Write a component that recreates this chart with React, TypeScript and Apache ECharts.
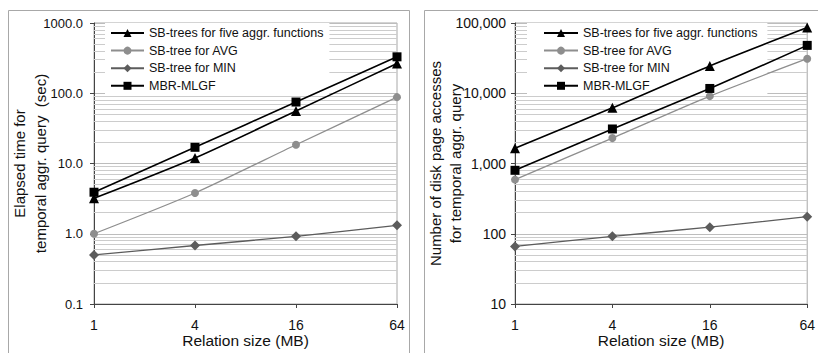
import React, { useEffect, useRef } from 'react';
import * as echarts from 'echarts';

const CATEGORIES = ['1', '4', '16', '64'];
const NAME_FIVE = 'SB-trees for five aggr. functions';
const NAME_AVG = 'SB-tree for AVG';
const NAME_MIN = 'SB-tree for MIN';
const NAME_MBR = 'MBR-MLGF';
const LEGEND_NAMES = [NAME_FIVE, NAME_AVG, NAME_MIN, NAME_MBR];

// Left chart: elapsed time (sec)
const TIME_SB_FIVE = [3.2, 12, 56, 265];
const TIME_SB_AVG = [1.0, 3.8, 18.5, 88];
const TIME_SB_MIN = [0.5, 0.68, 0.92, 1.32];
const TIME_MBR = [3.9, 17, 75, 330];

// Right chart: number of disk page accesses
const PAGES_SB_FIVE = [1650, 6200, 24500, 86000];
const PAGES_SB_AVG = [590, 2300, 9100, 31000];
const PAGES_SB_MIN = [66, 92, 124, 175];
const PAGES_MBR = [800, 3100, 11700, 48000];

const LEFT_Y_MIN = 0.1;
const LEFT_Y_MAX = 1000;
const RIGHT_Y_MIN = 10;
const RIGHT_Y_MAX = 100000;

const FONT = '"Liberation Sans", Arial, sans-serif';

function minorLines(min: number, max: number) {
  const out: any[] = [];
  for (let d = min; d < max * 0.99; d *= 10) {
    for (let k = 2; k <= 9; k++) out.push({ yAxis: +(d * k).toPrecision(3) });
  }
  return out;
}

const STYLES: Record<string, any> = {
  [NAME_FIVE]: { color: '#000000', symbol: 'triangle', symbolSize: 10, width: 1.6 },
  [NAME_AVG]: { color: '#8e8e8e', symbol: 'circle', symbolSize: 8, width: 1.3 },
  [NAME_MIN]: { color: '#5c5c5c', symbol: 'diamond', symbolSize: 10, width: 1.3 },
  [NAME_MBR]: { color: '#000000', symbol: 'rect', symbolSize: 9, width: 1.6 },
};

function makeSeries(name: string, data: number[], idx: number) {
  const s = STYLES[name];
  return {
    name,
    type: 'line',
    xAxisIndex: idx,
    yAxisIndex: idx,
    data,
    smooth: 0.25,
    symbol: s.symbol,
    symbolSize: s.symbolSize,
    itemStyle: { color: s.color },
    lineStyle: { color: s.color, width: s.width },
    z: 5,
  };
}

function gridSeries(idx: number, min: number, max: number) {
  return {
    name: 'minor-grid-' + idx,
    type: 'line',
    xAxisIndex: idx,
    yAxisIndex: idx,
    data: [],
    silent: true,
    z: 1,
    markLine: {
      silent: true,
      z: 1,
      symbol: 'none',
      label: { show: false },
      animation: false,
      lineStyle: { color: '#cccccc', width: 1, type: 'solid' },
      emphasis: { disabled: true },
      data: minorLines(min, max),
    },
  };
}

export default function App() {
  const ref = useRef<HTMLDivElement>(null);
  useEffect(() => {
    if (!ref.current) return;
    const chart = echarts.init(ref.current, undefined, { renderer: 'svg' });
    const axisX = (idx: number, fs: number) => ({
      type: 'category',
      gridIndex: idx,
      data: CATEGORIES,
      boundaryGap: false,
      name: 'Relation size (MB)',
      nameLocation: 'middle',
      nameGap: 28,
      nameMoveOverlap: false,
      nameTextStyle: { fontFamily: FONT, fontSize: 15.5, color: '#111' },
      axisLine: { lineStyle: { color: '#444', width: 1 } },
      axisTick: { show: true, length: 4, inside: false, lineStyle: { color: '#444' } },
      axisLabel: { fontFamily: FONT, fontSize: fs, color: '#111', margin: 14 },
      splitLine: { show: false },
    });
    const legendBase = {
      data: LEGEND_NAMES,
      orient: 'vertical',
      top: 23,
      itemHeight: 10,
      itemGap: 3.6,
      z: 3,
      backgroundColor: '#ffffff',
      textStyle: { fontFamily: FONT, fontSize: 12.5, color: '#111', lineHeight: 14 },
      selectedMode: false,
    };
    const option: any = {
      animation: false,
      backgroundColor: '#ffffff',
      textStyle: { fontFamily: FONT },
      graphic: [
        {
          type: 'rect',
          silent: true,
          z: -10,
          shape: { x: 8.5, y: 10.5, width: 401, height: 400 },
          style: { fill: 'none', stroke: '#a8a8a8', lineWidth: 1 },
        },
        {
          type: 'rect',
          silent: true,
          z: -10,
          shape: { x: 424.5, y: 10.5, width: 400, height: 400 },
          style: { fill: 'none', stroke: '#a8a8a8', lineWidth: 1 },
        },
      ],
      grid: [
        { left: 94, top: 23, width: 303, height: 285, show: true, borderColor: '#a8a8a8', borderWidth: 1, backgroundColor: 'transparent' },
        { left: 515, top: 23, width: 299, height: 285, show: true, borderColor: '#a8a8a8', borderWidth: 1, backgroundColor: 'transparent' },
      ],
      legend: [
        { ...legendBase, left: 105, padding: [3, 6, 3, 5], itemWidth: 33 },
        { ...legendBase, left: 527, padding: [3, 10, 3, 16], itemWidth: 34 },
      ],
      xAxis: [axisX(0, 14), axisX(1, 14)],
      yAxis: [
        {
          type: 'log',
          gridIndex: 0,
          logBase: 10,
          min: LEFT_Y_MIN,
          max: LEFT_Y_MAX,
          name: 'Elapsed time for\ntemporal aggr. query  (sec)',
          nameLocation: 'middle',
          nameRotate: 90,
          nameGap: 43,
          nameMoveOverlap: false,
          nameTextStyle: { fontFamily: FONT, fontSize: 15, color: '#111', lineHeight: 21, align: 'center' },
          axisLine: { show: true, lineStyle: { color: '#444', width: 1 } },
          axisTick: { show: true, length: 4, lineStyle: { color: '#444' } },
          axisLabel: {
            fontFamily: FONT,
            fontSize: 13,
            color: '#111',
            margin: 11,
            formatter: (v: number) => Number(v).toFixed(1),
          },
          splitLine: { show: true, lineStyle: { color: '#bdbdbd', width: 1 } },
        },
        {
          type: 'log',
          gridIndex: 1,
          logBase: 10,
          min: RIGHT_Y_MIN,
          max: RIGHT_Y_MAX,
          name: 'Number of disk page accesses\nfor temporal aggr. query',
          nameLocation: 'middle',
          nameRotate: 90,
          nameGap: 50,
          nameMoveOverlap: false,
          nameTextStyle: { fontFamily: FONT, fontSize: 15, color: '#111', lineHeight: 20, align: 'center' },
          axisLine: { show: true, lineStyle: { color: '#444', width: 1 } },
          axisTick: { show: true, length: 4, lineStyle: { color: '#444' } },
          axisLabel: {
            fontFamily: FONT,
            fontSize: 14,
            color: '#111',
            margin: 9,
            formatter: (v: number) => Math.round(v).toLocaleString('en-US'),
          },
          splitLine: { show: true, lineStyle: { color: '#bdbdbd', width: 1 } },
        },
      ],
      series: [
        gridSeries(0, LEFT_Y_MIN, LEFT_Y_MAX),
        gridSeries(1, RIGHT_Y_MIN, RIGHT_Y_MAX),
        makeSeries(NAME_MIN, TIME_SB_MIN, 0),
        makeSeries(NAME_AVG, TIME_SB_AVG, 0),
        makeSeries(NAME_FIVE, TIME_SB_FIVE, 0),
        makeSeries(NAME_MBR, TIME_MBR, 0),
        makeSeries(NAME_MIN, PAGES_SB_MIN, 1),
        makeSeries(NAME_AVG, PAGES_SB_AVG, 1),
        makeSeries(NAME_FIVE, PAGES_SB_FIVE, 1),
        makeSeries(NAME_MBR, PAGES_MBR, 1),
      ],
    };
    chart.setOption(option);
    return () => chart.dispose();
  }, []);
  return (
    <div
      ref={ref}
      style={{ position: 'fixed', left: 0, top: 0, width: 818, height: 353, background: '#ffffff' }}
    />
  );
}
